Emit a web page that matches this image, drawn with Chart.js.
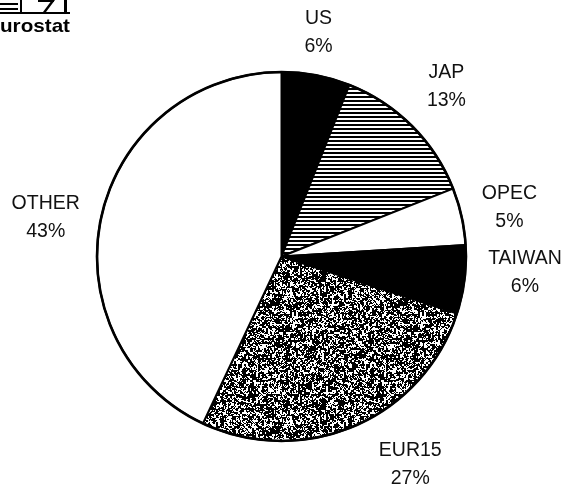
<!DOCTYPE html>
<html>
<head>
<meta charset="utf-8">
<script src="https://cdn.jsdelivr.net/npm/chart.js@4/dist/chart.umd.min.js"></script>
<style>
  html, body { margin: 0; padding: 0; background: #fff; }
  #wrap { position: relative; width: 564px; height: 488px; }
</style>
</head>
<body>
<div id="wrap"><canvas id="c" width="564" height="488"></canvas></div>
<script>
// Shares by partner (%)
const categories = ['US', 'JAP', 'OPEC', 'TAIWAN', 'EUR15', 'OTHER'];
const shares = [6, 13, 5, 6, 27, 43];
const shareLabels = ['6%', '13%', '5%', '6%', '27%', '43%'];

// Label placement around the pie: direction (degrees clockwise from 12 o'clock) and distance from centre
const labelAngle = [9.4, 44.1, 78.0, 93.8, 148.3, 279.4];
const labelDist = [227, 237, 233, 244, 245, 239];

function stripePattern() {
  const p = document.createElement('canvas');
  p.width = 8; p.height = 4;
  const g = p.getContext('2d');
  g.fillStyle = '#fff'; g.fillRect(0, 0, 8, 4);
  g.fillStyle = '#000'; g.fillRect(0, 0, 8, 2);
  return g.createPattern(p, 'repeat');
}

function speckle() {
  // deterministic grainy grey texture: fine grain mixed with coarser clumps
  const n = 128;
  const p = document.createElement('canvas');
  p.width = n; p.height = n;
  const g = p.getContext('2d');
  const img = g.createImageData(n, n);
  let s = 98765;
  const rnd = () => { s = (s * 1103515245 + 12345) & 0x7fffffff; return s / 0x7fffffff; };
  const coarse = [];
  for (let i = 0; i < (n / 2) * (n / 2); i++) coarse.push(rnd());
  for (let y = 0; y < n; y++) {
    for (let x = 0; x < n; x++) {
      const c = coarse[(y >> 1) * (n / 2) + (x >> 1)];
      const f = rnd();
      const v = (0.55 * c + 0.45 * f) < 0.56 ? 0 : 255;
      const i = (y * n + x) * 4;
      img.data[i] = v; img.data[i + 1] = v; img.data[i + 2] = v; img.data[i + 3] = 255;
    }
  }
  g.putImageData(img, 0, 0);
  return g.createPattern(p, 'repeat');
}

const fills = ['#000', stripePattern(), '#fff', '#000', speckle(), '#fff'];

const labelPlugin = {
  id: 'outerLabels',
  afterDraw(chart) {
    const ctx = chart.ctx;
    const arc = chart.getDatasetMeta(0).data[0];
    const cx = arc.x, cy = arc.y;
    ctx.save();
    // outer rim drawn a touch heavier
    ctx.beginPath();
    ctx.arc(cx, cy, arc.outerRadius, 0, Math.PI * 2);
    ctx.lineWidth = 2.6;
    ctx.strokeStyle = '#000';
    ctx.stroke();

    ctx.fillStyle = '#111';
    ctx.font = '19.5px "Liberation Sans", Arial, sans-serif';
    ctx.textAlign = 'center';
    ctx.textBaseline = 'middle';
    categories.forEach((name, i) => {
      const a = labelAngle[i] * Math.PI / 180;
      const x = cx + Math.sin(a) * labelDist[i];
      const y = cy - Math.cos(a) * labelDist[i];
      ctx.fillText(name, x, y - 14);
      ctx.fillText(shareLabels[i], x, y + 14);
    });
    ctx.restore();
  }
};

const logoPlugin = {
  id: 'logo',
  afterDraw(chart) {
    const ctx = chart.ctx;
    ctx.save();
    ctx.fillStyle = '#000';
    // emblem strokes
    ctx.fillRect(0, 3, 18, 2);
    ctx.fillRect(0, 8, 18, 2);
    ctx.fillRect(20, 0, 2, 12);
    ctx.fillRect(38, 0, 16, 2);
    ctx.beginPath();
    ctx.moveTo(52, 0); ctx.lineTo(55, 0); ctx.lineTo(46, 12); ctx.lineTo(43, 12); ctx.closePath(); ctx.fill();
    ctx.fillRect(64, 0, 3, 12);
    ctx.fillRect(0, 12, 70, 2);
    // wordmark, with the leading "E" running off the left edge
    ctx.font = 'bold 19px "Liberation Sans", Arial, sans-serif';
    ctx.textBaseline = 'alphabetic';
    ctx.textAlign = 'right';
    const k = 70 / ctx.measureText('urostat').width;
    ctx.translate(70, 32);
    ctx.scale(k, 1);
    ctx.fillText('Eurostat', 0, 0);
    ctx.restore();
  }
};

new Chart(document.getElementById('c'), {
  type: 'pie',
  data: {
    labels: categories,
    datasets: [{
      data: shares,
      backgroundColor: fills,
      borderColor: '#000',
      borderWidth: 2,
      borderAlign: 'center'
    }]
  },
  options: {
    responsive: false,
    animation: false,
    rotation: 0,
    layout: { padding: { left: 96, right: 97, top: 71, bottom: 46 } },
    plugins: { legend: { display: false }, tooltip: { enabled: false } }
  },
  plugins: [labelPlugin, logoPlugin]
});
</script>
</body>
</html>
